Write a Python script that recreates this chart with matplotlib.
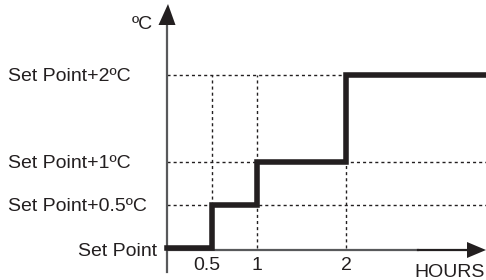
import matplotlib
matplotlib.use('Agg')
import matplotlib.pyplot as plt
from matplotlib.patches import Polygon

plt.rcParams['font.family'] = ['Liberation Sans', 'DejaVu Sans']

# data
hours = [0, 0.5, 1, 2]
levels = [0, 0.5, 1, 2]
hour_labels = ['0.5', '1', '2']
level_labels = ['Set Point', 'Set Point+0.5ºC', 'Set Point+1ºC', 'Set Point+2ºC']

W, H = 486, 280
fig = plt.figure(figsize=(W / 100, H / 100), dpi=100)
ax = fig.add_axes([0, 0, 1, 1])
ax.set_axis_off()

# pixel layout: x=0 at px 167, 89.5 px per hour; y=0 at px 248, 86.5 px per step
x0, sx = 167, 89.5
y0, sy = 248, 86.5
ax.set_xlim(-x0 / sx, (W - x0) / sx)
ax.set_ylim(-(H - y0) / sy, y0 / sy)
xmax = (W - x0) / sx

def px(dx):
    return dx / sx

def py(dy):
    return dy / sy

ink = '#231f20'
grey = '#58595b'
fs = 14

# dotted guide lines
for lv in levels[1:]:
    ax.plot([0, xmax], [lv, lv], color=ink, lw=1.0, ls=(0, (2.2, 2.2)), zorder=1)
for h in hours[1:]:
    ax.plot([h, h], [0, levels[-1]], color=ink, lw=1.0, ls=(0, (2.2, 2.2)), zorder=1)

# axes
ax.plot([0, 0], [py(-24), py(222)], color=grey, lw=1.6, zorder=2)
ax.plot([0, px(251)], [py(-2), py(-2)], color=grey, lw=1.6, zorder=2)
ax.plot([px(251), px(301)], [py(-2), py(-2)], color=ink, lw=1.6, zorder=2)
ax.add_patch(Polygon([[px(-8.5), py(223)], [px(8.5), py(223)], [px(1), py(244)]],
                     closed=True, color=ink, lw=0, zorder=3))
ax.add_patch(Polygon([[px(300), py(6)], [px(300), py(-10)], [px(319), py(-2)]],
                     closed=True, color=ink, lw=0, zorder=3))

# step line
ax.step(hours + [xmax], levels + [levels[-1]], where='post', color=ink, lw=4.0,
        solid_joinstyle='miter', zorder=4)

# level labels
for lv, lab in zip(levels, level_labels):
    if lv == 0:
        ax.annotate(lab, (0, lv), xytext=(-10 * 0.72, -8 * 0.72), textcoords='offset points',
                    ha='right', va='baseline', fontsize=fs, color=ink)
    else:
        ax.annotate(lab, (px(8 - x0), lv), xytext=(0, -6 * 0.72), textcoords='offset points',
                    ha='left', va='baseline', fontsize=fs, color=ink)

# hour labels
for h, lab in zip(hours[1:], hour_labels):
    ax.annotate(lab, (h, 0), xytext=(-5 * 0.72 if h == 0.5 else 0, -22 * 0.72),
                textcoords='offset points', ha='center', va='baseline', fontsize=fs, color=ink)

ax.text(px(485 - x0), py(248 - 277), 'HOURS', ha='right', va='baseline', fontsize=fs, color=ink)
ax.text(px(153 - x0), py(248 - 29), 'ºC', ha='right', va='baseline', fontsize=fs, color=ink)

fig.savefig('out.png', dpi=100)
